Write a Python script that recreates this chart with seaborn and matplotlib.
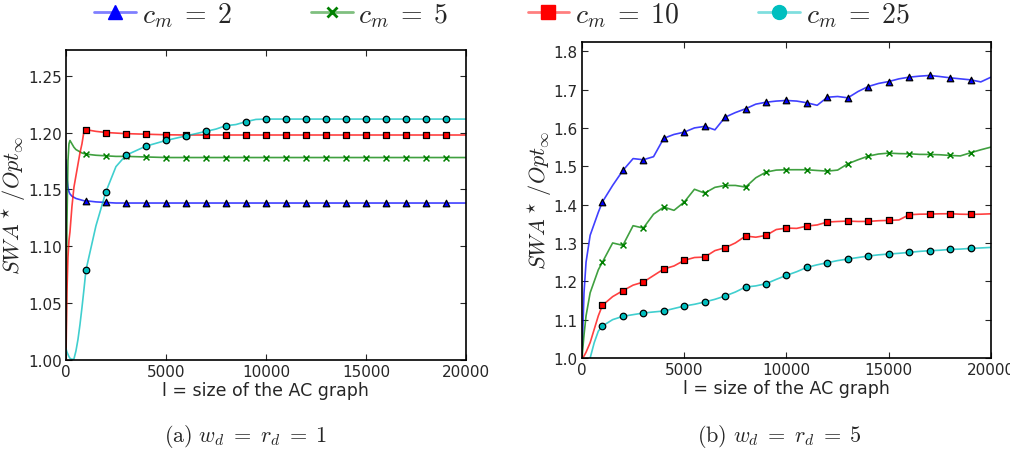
import numpy as np
import pandas as pd
import seaborn as sns
import matplotlib
matplotlib.use("Agg")
import matplotlib.pyplot as plt
from matplotlib.lines import Line2D
from matplotlib.colors import to_rgba

# данные, панель (a): w_d = r_d = 1
x_a = [0, 50, 100, 150, 200, 300, 400, 500, 600, 700, 800, 900,
       1000, 1500, 2000, 2500, 3000, 4000, 5000, 6000, 7000,
       7500, 8000, 8500, 9000, 9500, 10000, 11000, 12000, 13000, 14000,
       15000, 16000, 17000, 18000, 19000, 20000]
cm2_a = [1.176, 1.160, 1.152, 1.148, 1.146, 1.144, 1.143, 1.142, 1.1415, 1.141, 1.1405, 1.140,
         1.140, 1.139, 1.1385, 1.138, 1.138, 1.138, 1.138, 1.138, 1.138,
         1.138, 1.138, 1.138, 1.138, 1.138, 1.138, 1.138, 1.138, 1.138, 1.138,
         1.138, 1.138, 1.138, 1.138, 1.138, 1.138]
cm5_a = [1.000, 1.120, 1.175, 1.190, 1.193, 1.190, 1.187, 1.185, 1.184, 1.183, 1.182, 1.1815,
         1.181, 1.180, 1.1795, 1.179, 1.179, 1.1785, 1.178, 1.178, 1.178,
         1.178, 1.178, 1.178, 1.178, 1.178, 1.178, 1.178, 1.178, 1.178, 1.178,
         1.178, 1.178, 1.178, 1.178, 1.178, 1.178]
cm10_a = [1.000, 1.060, 1.090, 1.105, 1.1125, 1.135, 1.152, 1.162, 1.172, 1.182, 1.190, 1.201,
          1.2025, 1.201, 1.200, 1.1995, 1.199, 1.1985, 1.198, 1.1978, 1.1978,
          1.1978, 1.1978, 1.1978, 1.1978, 1.1978, 1.1978, 1.1978, 1.1978, 1.1978, 1.1978,
          1.1978, 1.1978, 1.1978, 1.1978, 1.1978, 1.1978]
cm25_a = [1.010, 1.007, 1.005, 1.003, 1.0015, 1.0005, 1.001, 1.008, 1.018, 1.031, 1.046, 1.062,
          1.079, 1.118, 1.148, 1.170, 1.180, 1.188, 1.193, 1.197, 1.201,
          1.203, 1.206, 1.207, 1.2095, 1.2115, 1.2118, 1.2118, 1.2118, 1.2118, 1.2118,
          1.2118, 1.2118, 1.2118, 1.2118, 1.2118, 1.2118]

# данные, панель (b): w_d = r_d = 5
x_b = [0, 100, 200, 400, 600, 800,
       1000, 1500, 2000, 2500, 3000, 3500, 4000, 4500, 5000, 5500,
       6000, 6500, 7000, 7500, 8000, 8500, 9000, 9500, 10000, 10500,
       11000, 11500, 12000, 12500, 13000, 13500, 14000, 14500, 15000, 15500,
       16000, 16500, 17000, 17500, 18000, 18500, 19000, 19500, 20000]
cm2_b = [1.000, 1.170, 1.250, 1.320, 1.350, 1.380,
         1.407, 1.450, 1.489, 1.520, 1.517, 1.525, 1.573, 1.583, 1.589, 1.600,
         1.604, 1.595, 1.628, 1.640, 1.650, 1.662, 1.667, 1.670, 1.6716, 1.670,
         1.6655, 1.659, 1.680, 1.682, 1.6785, 1.695, 1.708, 1.716, 1.721, 1.728,
         1.7324, 1.735, 1.7368, 1.734, 1.7307, 1.728, 1.7254, 1.720, 1.7324]
cm5_b = [1.000, 1.060, 1.110, 1.170, 1.200, 1.230,
         1.250, 1.300, 1.2937, 1.345, 1.3388, 1.375, 1.3936, 1.385, 1.4066, 1.440,
         1.430, 1.445, 1.450, 1.450, 1.4457, 1.470, 1.4848, 1.490, 1.4909, 1.491,
         1.4909, 1.489, 1.4874, 1.490, 1.5065, 1.517, 1.5265, 1.532, 1.5343, 1.533,
         1.5326, 1.531, 1.5308, 1.530, 1.5282, 1.527, 1.5352, 1.543, 1.550]
cm10_b = [1.000, 1.005, 1.015, 1.040, 1.075, 1.110,
          1.1373, 1.160, 1.1755, 1.190, 1.198, 1.215, 1.232, 1.240, 1.2546, 1.262,
          1.2632, 1.280, 1.2876, 1.300, 1.318, 1.315, 1.3197, 1.335, 1.3388, 1.338,
          1.344, 1.347, 1.3545, 1.356, 1.357, 1.356, 1.3562, 1.358, 1.3588, 1.360,
          1.3736, 1.375, 1.3753, 1.376, 1.3762, 1.375, 1.3745, 1.375, 1.376]
cm25_b = [0.960, 0.970, 0.980, 1.000, 1.040, 1.070,
          1.0834, 1.100, 1.1086, 1.113, 1.1173, 1.120, 1.1225, 1.129, 1.1355, 1.140,
          1.146, 1.153, 1.1616, 1.172, 1.185, 1.188, 1.1937, 1.205, 1.2155, 1.225,
          1.2363, 1.243, 1.2485, 1.254, 1.258, 1.262, 1.2659, 1.269, 1.2711, 1.273,
          1.2754, 1.278, 1.2798, 1.281, 1.2832, 1.284, 1.2858, 1.287, 1.2884]

labels = [r"$c_m\;=\;2$", r"$c_m\;=\;5$", r"$c_m\;=\;10$", r"$c_m\;=\;25$"]
colors = ["#0000ff", "#008000", "#ff0000", "#00bfbf"]
markers = ["^", "x", "s", "o"]
marker_x = list(range(1000, 20000, 1000))

sns.set_style("ticks", {"xtick.direction": "in", "ytick.direction": "in",
                        "axes.edgecolor": "black"})
plt.rcParams["mathtext.fontset"] = "cm"
plt.rcParams["font.family"] = ["DejaVu Sans"]

fig = plt.figure(figsize=(10.1, 4.52), dpi=100)
ax_a = fig.add_axes([0.0653, 0.2013, 0.396, 0.6858])
ax_b = fig.add_axes([0.5762, 0.2058, 0.405, 0.699])


def draw_panel(ax, xs, series):
    for ys, lab, col, mk in zip(series, labels, colors, markers):
        df = pd.DataFrame({"x": xs, "y": ys})
        sns.lineplot(data=df, x="x", y="y", ax=ax, color=col, alpha=0.75,
                     linewidth=1.2, legend=False)
        dm = df[df["x"].isin(marker_x)]
        if mk == "x":
            sns.scatterplot(data=dm, x="x", y="y", ax=ax, color=col, marker=mk,
                            s=18, linewidth=1.1, zorder=5, legend=False)
        else:
            sns.scatterplot(data=dm, x="x", y="y", ax=ax, color=col, marker=mk,
                            s=22, edgecolor="black", linewidth=0.9, zorder=5,
                            legend=False)
    ax.set_xlim(0, 20000)
    ax.set_xticks([0, 5000, 10000, 15000, 20000])
    ax.tick_params(top=True, right=True, labelsize=11, length=4, pad=3)
    ax.set_xlabel("l = size of the AC graph", fontsize=12.5, labelpad=1)
    ax.set_ylabel(r"$SWA^\star\,/Opt_\infty$", fontsize=16, labelpad=0)
    for sp in ax.spines.values():
        sp.set_linewidth(1.2)


draw_panel(ax_a, x_a, [cm2_a, cm5_a, cm10_a, cm25_a])
ax_a.set_ylim(1.0, 1.2725)
ax_a.set_yticks([1.00, 1.05, 1.10, 1.15, 1.20, 1.25])
ax_a.set_yticklabels(["1.00", "1.05", "1.10", "1.15", "1.20", "1.25"])

draw_panel(ax_b, x_b, [cm2_b, cm5_b, cm10_b, cm25_b])
ax_b.set_ylim(1.0, 1.824)
ax_b.set_yticks([1.0, 1.1, 1.2, 1.3, 1.4, 1.5, 1.6, 1.7, 1.8])
ax_b.set_yticklabels(["1.0", "1.1", "1.2", "1.3", "1.4", "1.5", "1.6", "1.7", "1.8"])

# легенда сверху
handles = []
for lab, col, mk in zip(labels, colors, markers):
    handles.append(Line2D([0], [0], color=to_rgba(col, 0.5), linewidth=2,
                          marker=mk, markersize=10 if mk != "x" else 7,
                          markerfacecolor=col, markeredgecolor=col,
                          markeredgewidth=2 if mk == "x" else 1, label=lab))
fig.legend(handles=handles, loc="center", bbox_to_anchor=(0.497, 0.966), ncol=4,
           frameon=False, fontsize=20, handlelength=1.5, handletextpad=0.2,
           columnspacing=2.85)

fig.text(0.243, 0.035, r"$\mathrm{(a)}\ w_d\;=\;r_d\;=\;1$", fontsize=16,
         ha="center", va="center")
fig.text(0.772, 0.035, r"$\mathrm{(b)}\ w_d\;=\;r_d\;=\;5$", fontsize=16,
         ha="center", va="center")

fig.savefig("out.png", dpi=100)
